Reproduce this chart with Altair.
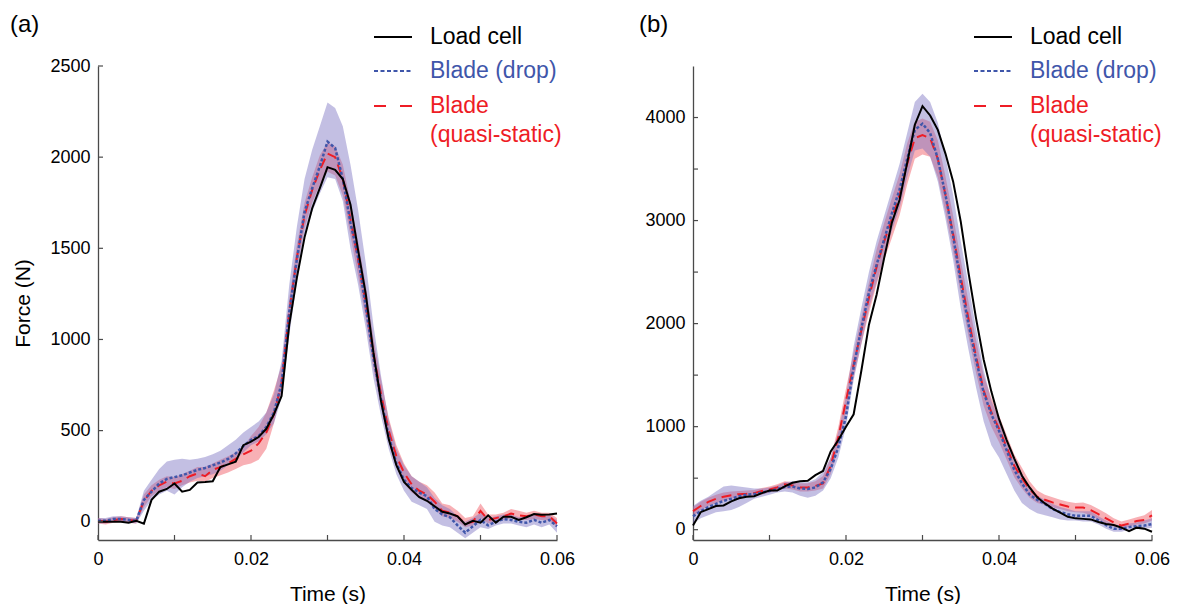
import altair as alt
import pandas as pd

# time grid (ms -> s)
TIME = [i / 1000 for i in range(61)]

# ---------------- panel (a) ----------------
A_LOAD = [0, 0, 0, 0, -5, 5, -10, 120, 165, 180, 210, 165, 175, 215, 218, 222, 300, 315, 330, 420,
          440, 465, 510, 590, 690, 1080, 1340, 1560, 1720, 1830, 1945, 1930, 1880, 1740, 1490, 1250, 930, 660, 454, 310,
          218, 175, 135, 115, 85, 55, 45, 30, -15, 5, -5, 35, -5, 28, 27, 10, 25, 42, 38, 40, 45]
A_DROP = [5, 5, 15, 15, 10, 5, 120, 165, 210, 235, 245, 255, 270, 285, 295, 310, 325, 345, 375, 415,
          450, 470, 520, 600, 760, 1150, 1440, 1700, 1830, 1950, 2085, 2050, 1880, 1640, 1450, 1180, 900, 670, 470, 320,
          230, 185, 160, 140, 70, 40, 25, -20, -60, -25, 10, -20, 0, 15, 10, 0, -5, 10, -5, 10, -25]
A_DROP_LO = [-10, -10, 0, 0, -5, -10, 60, 120, 150, 170, 150, 190, 220, 240, 250, 260, 280, 310, 340, 380,
             420, 440, 480, 540, 680, 1020, 1320, 1560, 1700, 1800, 1890, 1880, 1760, 1500, 1300, 1060, 790, 580, 400, 260,
             170, 110, 90, 70, 0, -20, -30, -60, -90, -60, -30, -40, -20, -10, -10, -20, -30, -15, -30, -15, -60]
A_DROP_HI = [20, 20, 30, 30, 25, 20, 170, 230, 290, 330, 340, 345, 340, 345, 355, 370, 390, 420, 450, 490,
             520, 550, 600, 700, 880, 1300, 1620, 1880, 2040, 2170, 2300, 2270, 2170, 1960, 1710, 1420, 1080, 800, 560, 400,
             310, 250, 220, 190, 130, 90, 70, 30, 0, 20, 50, 20, 30, 40, 40, 25, 30, 40, 25, 35, 10]
A_QS = [5, 0, 10, 15, 10, 5, 115, 170, 200, 220, 210, 225, 250, 265, 250, 285, 300, 320, 345, 370,
        390, 430, 490, 590, 760, 1150, 1450, 1680, 1820, 1930, 2020, 2000, 1880, 1660, 1440, 1200, 920, 700, 500, 360,
        270, 205, 170, 150, 110, 60, 50, 30, -10, 0, 60, 10, 20, 30, 45, 35, 30, 40, 30, 30, -10]
A_QS_LO = [-10, -15, -5, 0, -5, -10, 80, 140, 170, 190, 180, 200, 215, 225, 220, 240, 255, 270, 290, 310,
           320, 340, 400, 540, 720, 1080, 1380, 1610, 1750, 1850, 1920, 1900, 1790, 1570, 1350, 1110, 840, 630, 440, 300,
           210, 160, 130, 110, 70, 30, 20, 0, -30, -20, 20, -10, 0, 10, 20, 10, 10, 15, 10, 5, -30]
A_QS_HI = [20, 15, 25, 30, 25, 20, 150, 200, 230, 250, 245, 260, 280, 300, 300, 320, 340, 360, 380, 410,
           470, 520, 600, 720, 860, 1220, 1520, 1750, 1890, 2010, 2080, 2060, 1960, 1760, 1540, 1300, 1010, 780, 570, 420,
           320, 250, 220, 200, 160, 100, 90, 60, 20, 30, 100, 40, 40, 50, 70, 60, 50, 60, 50, 50, 20]

# ---------------- panel (b) ----------------
B_LOAD = [40, 170, 200, 230, 235, 275, 305, 320, 325, 355, 380, 380, 420, 455, 470, 475, 530, 570, 760, 870,
          1000, 1120, 1540, 1990, 2280, 2640, 2980, 3200, 3560, 3930, 4110, 4020, 3880, 3650, 3380, 2990, 2500, 2050, 1650, 1340,
          1075, 870, 690, 524, 410, 314, 255, 205, 165, 125, 110, 105, 100, 75, 55, 45, 20, -15, 20, 10, -20]
B_DROP = [130, 180, 220, 250, 280, 300, 325, 340, 346, 360, 375, 395, 415, 420, 400, 395, 410, 460, 590, 800,
          1100, 1580, 1950, 2300, 2570, 2820, 3070, 3300, 3600, 3880, 3940, 3850, 3600, 3250, 2850, 2400, 2000, 1650, 1330, 1120,
          960, 770, 580, 450, 340, 290, 250, 200, 170, 150, 135, 135, 135, 90, 45, 10, 10, 25, 35, 40, 55]
B_DROP_LO = [60, 110, 140, 170, 180, 190, 220, 260, 300, 320, 340, 360, 370, 360, 330, 310, 330, 380, 500, 700,
             1000, 1450, 1800, 2150, 2400, 2650, 2900, 3120, 3420, 3680, 3700, 3620, 3380, 3020, 2620, 2150, 1750, 1380, 1050, 820,
             700, 540, 380, 260, 200, 160, 140, 120, 100, 90, 90, 80, 80, 50, 10, -20, -20, 0, 10, 10, 20]
B_DROP_HI = [230, 280, 320, 370, 420, 430, 420, 410, 400, 400, 410, 430, 460, 470, 460, 460, 490, 560, 700, 950,
             1300, 1780, 2150, 2500, 2800, 3050, 3300, 3550, 3850, 4150, 4230, 4150, 3950, 3620, 3250, 2800, 2380, 1950, 1550, 1250,
             1080, 880, 690, 540, 420, 330, 290, 250, 220, 200, 180, 180, 180, 130, 90, 50, 40, 60, 70, 90, 110]
B_QS = [180, 230, 270, 300, 320, 335, 345, 348, 355, 375, 390, 410, 440, 430, 410, 410, 425, 450, 620, 900,
        1250, 1600, 1930, 2250, 2550, 2800, 3020, 3250, 3550, 3800, 3830, 3800, 3600, 3250, 2870, 2450, 2050, 1680, 1350, 1140,
        980, 800, 620, 500, 390, 320, 290, 265, 245, 225, 215, 215, 190, 150, 110, 70, 40, 60, 85, 95, 140]
B_QS_LO = [130, 190, 230, 260, 280, 300, 315, 320, 325, 340, 360, 380, 400, 390, 370, 370, 380, 400, 540, 800,
           1130, 1480, 1800, 2100, 2380, 2620, 2830, 3050, 3350, 3600, 3640, 3620, 3420, 3080, 2700, 2280, 1880, 1520, 1200, 1000,
           850, 680, 510, 400, 310, 260, 240, 215, 200, 180, 170, 165, 140, 100, 60, 30, 10, 30, 50, 60, 90]
B_QS_HI = [220, 270, 310, 340, 360, 370, 375, 380, 385, 405, 420, 440, 470, 460, 450, 450, 470, 520, 700, 1000,
           1370, 1720, 2060, 2400, 2720, 2980, 3220, 3450, 3750, 3960, 3990, 3960, 3780, 3430, 3050, 2620, 2220, 1840, 1500, 1280,
           1110, 920, 730, 600, 470, 380, 340, 315, 290, 270, 260, 265, 240, 200, 160, 110, 80, 100, 120, 140, 190]

X_TICKS = [0, 0.01, 0.02, 0.03, 0.04, 0.05, 0.06]
X_LABELS = [0, 0.02, 0.04, 0.06]
A_YLABELS = [0, 500, 1000, 1500, 2000, 2500]
A_YTICKS = [0, 500, 1000, 1500, 2000, 2500]
B_YLABELS = [0, 1000, 2000, 3000, 4000]
B_YTICKS = [0, 500, 1000, 1500, 2000, 2500, 3000, 3500, 4000]
LEGEND = ["Load cell", "Blade (drop)", "Blade", "(quasi-static)"]

FONT = "Liberation Sans"
AXIS_COLOR = "#4a4a4a"
BLACK = "#000000"
BLUE = "#3f56aa"
RED = "#ee1c25"
W, H = 459, 474


def panel(load, drop, drop_lo, drop_hi, qs, qs_lo, qs_hi, ydom, ylabels, yticks, letter, letter_x,
          leg_x, ytitle):
    df = pd.DataFrame({"t": TIME, "load": load, "drop": drop, "drop_lo": drop_lo, "drop_hi": drop_hi,
                       "qs": qs, "qs_lo": qs_lo, "qs_hi": qs_hi})
    xs = alt.Scale(domain=[0, 0.06], nice=False, zero=False)
    ys = alt.Scale(domain=ydom, nice=False, zero=False)
    xaxis = alt.Axis(values=X_LABELS, title="Time (s)", grid=False, ticks=False, tickSize=0,
                     labelFlush=False,
                     labelExpr="datum.value == 0 ? '0' : format(datum.value, '.2f')",
                     domainColor=AXIS_COLOR, domainWidth=1.3, labelColor="black", titleColor="black",
                     labelFont=FONT, titleFont=FONT, labelFontSize=18, titleFontSize=21,
                     titleFontWeight="normal", labelPadding=10, titlePadding=15)
    yargs = dict(values=ylabels, grid=False, ticks=False, tickSize=0, format="d",
                 domainColor=AXIS_COLOR, domainWidth=1.3, labelColor="black", titleColor="black",
                 labelFont=FONT, titleFont=FONT, labelFontSize=18, titleFontSize=21,
                 titleFontWeight="normal", labelPadding=8, titlePadding=16)
    yargs["title"] = ytitle
    yaxis = alt.Axis(**yargs)

    def X(f):
        return alt.X(f, type="quantitative", scale=xs, axis=xaxis)

    def Y(f):
        return alt.Y(f, type="quantitative", scale=ys, axis=yaxis)

    base = alt.Chart(df)
    qs_band = base.mark_area(color="#f0505a", opacity=0.45).encode(x=X("t"), y=Y("qs_lo"), y2="qs_hi")
    drop_band = base.mark_area(color="#7a70c0", opacity=0.45).encode(x=X("t"), y=Y("drop_lo"), y2="drop_hi")
    qs_line = base.mark_line(color=RED, strokeWidth=2, strokeDash=[10, 6]).encode(x=X("t"), y=Y("qs"))
    drop_line = base.mark_line(color=BLUE, strokeWidth=2.5, strokeDash=[3, 2]).encode(x=X("t"), y=Y("drop"))
    load_line = base.mark_line(color=BLACK, strokeWidth=2).encode(x=X("t"), y=Y("load"))

    xt = alt.Chart(pd.DataFrame({"v": X_TICKS})).mark_rule(color=AXIS_COLOR, strokeWidth=1.2).encode(
        x=X("v"), y=alt.value(H), y2=alt.value(H - 5))
    yt = alt.Chart(pd.DataFrame({"v": yticks})).mark_rule(color=AXIS_COLOR, strokeWidth=1.2).encode(
        y=Y("v"), x=alt.value(0), x2=alt.value(5))

    one = pd.DataFrame({"k": [0]})
    lx1, lx2, tx = leg_x, leg_x + 38, leg_x + 56
    leg_load = alt.Chart(one).mark_rule(color=BLACK, strokeWidth=2.2).encode(
        x=alt.value(lx1), x2=alt.value(lx2), y=alt.value(-29))
    leg_drop = alt.Chart(one).mark_rule(color=BLUE, strokeWidth=2.2, strokeDash=[4, 2.5]).encode(
        x=alt.value(lx1), x2=alt.value(lx2), y=alt.value(5))
    leg_qs = alt.Chart(one).mark_rule(color=RED, strokeWidth=2.2, strokeDash=[12, 14]).encode(
        x=alt.value(lx1), x2=alt.value(lx2), y=alt.value(40))
    texts = []
    for lab, col, yy in zip(LEGEND, [BLACK, BLUE, RED, RED], [-29, 5, 40, 69]):
        texts.append(alt.Chart(pd.DataFrame({"lab": [lab]})).mark_text(
            align="left", baseline="middle", font=FONT, fontSize=23, color=col).encode(
            x=alt.value(tx), y=alt.value(yy), text="lab:N"))
    letter_mark = alt.Chart(pd.DataFrame({"lab": [letter]})).mark_text(
        align="left", baseline="top", font=FONT, fontSize=24, color="black").encode(
        x=alt.value(letter_x), y=alt.value(-53), text="lab:N")

    return alt.layer(qs_band, drop_band, qs_line, drop_line, load_line, xt, yt,
                     leg_load, leg_drop, leg_qs, *texts, letter_mark).properties(width=W, height=H)


left = panel(A_LOAD, A_DROP, A_DROP_LO, A_DROP_HI, A_QS, A_QS_LO, A_QS_HI,
             [-100, 2500], A_YLABELS, A_YTICKS, "(a)", -88, 276, "Force (N)")
right = panel(B_LOAD, B_DROP, B_DROP_LO, B_DROP_HI, B_QS, B_QS_LO, B_QS_HI,
              [-100, 4500], B_YLABELS, B_YTICKS, "(b)", -54, 281, None)

chart = alt.hconcat(left, right, spacing=64).properties(
    padding={"left": 2, "top": 5, "right": 0, "bottom": 0}
).configure_view(stroke=None)

chart.save("out.html", embed_options={"renderer": "svg", "actions": False})
